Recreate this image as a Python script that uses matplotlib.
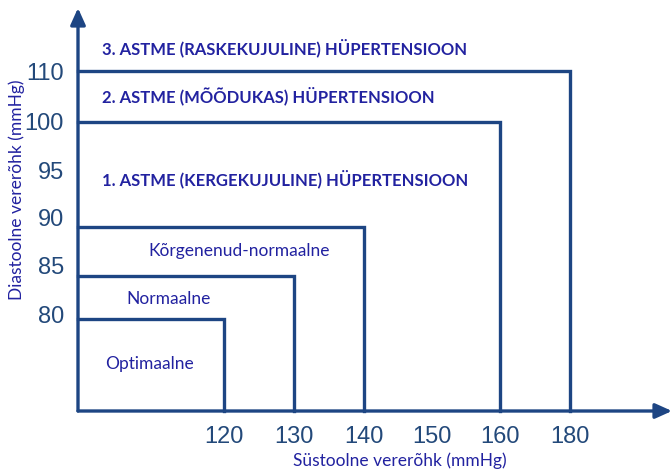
import numpy as np
import matplotlib
matplotlib.use("Agg")
import matplotlib.pyplot as plt
from matplotlib.transforms import ScaledTranslation

# ---- data ----
sys_ticks = [120, 130, 140, 150, 160, 180]
dia_ticks = [80, 85, 90, 95, 100, 110]
region_names = ["Optimaalne", "Normaalne", "Kõrgenenud-normaalne",
                "1. ASTME (KERGEKUJULINE) HÜPERTENSIOON",
                "2. ASTME (MÕÕDUKAS) HÜPERTENSIOON"]
region_sys = [120, 130, 140, 160, 180]
region_dia = [80, 85, 90, 100, 110]
stage3_name = "3. ASTME (RASKEKUJULINE) HÜPERTENSIOON"
xlabel = "Süstoolne vererõhk (mmHg)"
ylabel = "Diastoolne vererõhk (mmHg)"

# ---- layout (pixel positions of the non-linear axes) ----
W, H = 672, 469
X_PIX = [224, 294, 364, 432, 500, 570]
Y_PIX = [319, 276, 227, 174, 122, 71]
Y_POS = [H - p for p in Y_PIX]
Y_LABEL_SHIFT = [5, 10, 10, 4, 1, -1]   # label offsets (px, upward)
ORIGIN = (78, 411)

LINE_C = "#1d4583"
TICK_C = "#23497a"
TEXT_C = "#2222a0"


def extrap(v, xs, ys):
    v = np.asarray(v, dtype=float)
    out = np.interp(v, xs, ys)
    slo = (ys[1] - ys[0]) / (xs[1] - xs[0])
    shi = (ys[-1] - ys[-2]) / (xs[-1] - xs[-2])
    out = np.where(v < xs[0], ys[0] + (v - xs[0]) * slo, out)
    out = np.where(v > xs[-1], ys[-1] + (v - xs[-1]) * shi, out)
    return out


fx = (lambda v: extrap(v, sys_ticks, X_PIX), lambda p: extrap(p, X_PIX, sys_ticks))
fy = (lambda v: extrap(v, dia_ticks, Y_POS), lambda p: extrap(p, Y_POS, dia_ticks))

fig = plt.figure(figsize=(W / 100, H / 100), dpi=100)
ax = fig.add_axes([ORIGIN[0] / W, (H - ORIGIN[1]) / H,
                   (W - ORIGIN[0]) / W, (ORIGIN[1] - 8) / H])
ax.set_xscale("function", functions=fx)
ax.set_yscale("function", functions=fy)
x0 = float(fx[1](ORIGIN[0]))
x1 = float(fx[1](W))
y0 = float(fy[1](H - ORIGIN[1]))
y1 = float(fy[1](H - 8))
ax.set_xlim(x0, x1)
ax.set_ylim(y0, y1)

for s in ax.spines.values():
    s.set_visible(False)

# region boxes
for sv, dv in zip(region_sys, region_dia):
    ax.plot([x0, sv, sv], [dv, dv, y0], color=LINE_C, lw=2.4,
            solid_joinstyle="miter", clip_on=False)

# axes with arrows
for tip in [(0, 1), (1, 0)]:
    ax.annotate("", xy=tip, xytext=(0, 0), xycoords="axes fraction",
                arrowprops=dict(arrowstyle="-|>,head_length=1.0,head_width=0.45",
                                color=LINE_C, lw=2.4, shrinkA=0, shrinkB=0))

ax.set_xticks(sys_ticks)
ax.set_xticklabels([str(t) for t in sys_ticks])
ax.set_yticks(dia_ticks)
ax.set_yticklabels([str(t) for t in dia_ticks])
ax.minorticks_off()
ax.tick_params(axis="both", length=0, labelsize=17, labelcolor=TICK_C,
               labelfontfamily="Liberation Sans")
ax.tick_params(axis="x", pad=11)
ax.tick_params(axis="y", pad=10)
for lab, dy in zip(ax.get_yticklabels(), Y_LABEL_SHIFT):
    lab.set_transform(lab.get_transform() +
                      ScaledTranslation(0, dy / 100, fig.dpi_scale_trans))


def P(x, y):
    return x / W, 1 - y / H


# region labels (pixel layout)
fig.text(*P(150, 364), region_names[0], fontsize=12.5, color=TEXT_C,
         family="Lato", ha="center", va="center")
fig.text(*P(169, 299), region_names[1], fontsize=12.5, color=TEXT_C,
         family="Lato", ha="center", va="center")
fig.text(*P(239, 251), region_names[2], fontsize=12.5, color=TEXT_C,
         family="Lato", ha="center", va="center")
for name, yy in [(region_names[3], 179), (region_names[4], 96), (stage3_name, 48)]:
    fig.text(*P(102, yy), name, fontsize=12, color=TEXT_C, family="Lato",
             fontweight="bold", ha="left", va="center")

fig.text(*P(400, 461), xlabel, fontsize=12.5, color=TEXT_C, family="Lato",
         ha="center", va="center")
fig.text(*P(17, 190), ylabel, fontsize=12.5, color=TEXT_C, family="Lato",
         ha="center", va="center", rotation=90)

fig.savefig("out.png", dpi=100)
